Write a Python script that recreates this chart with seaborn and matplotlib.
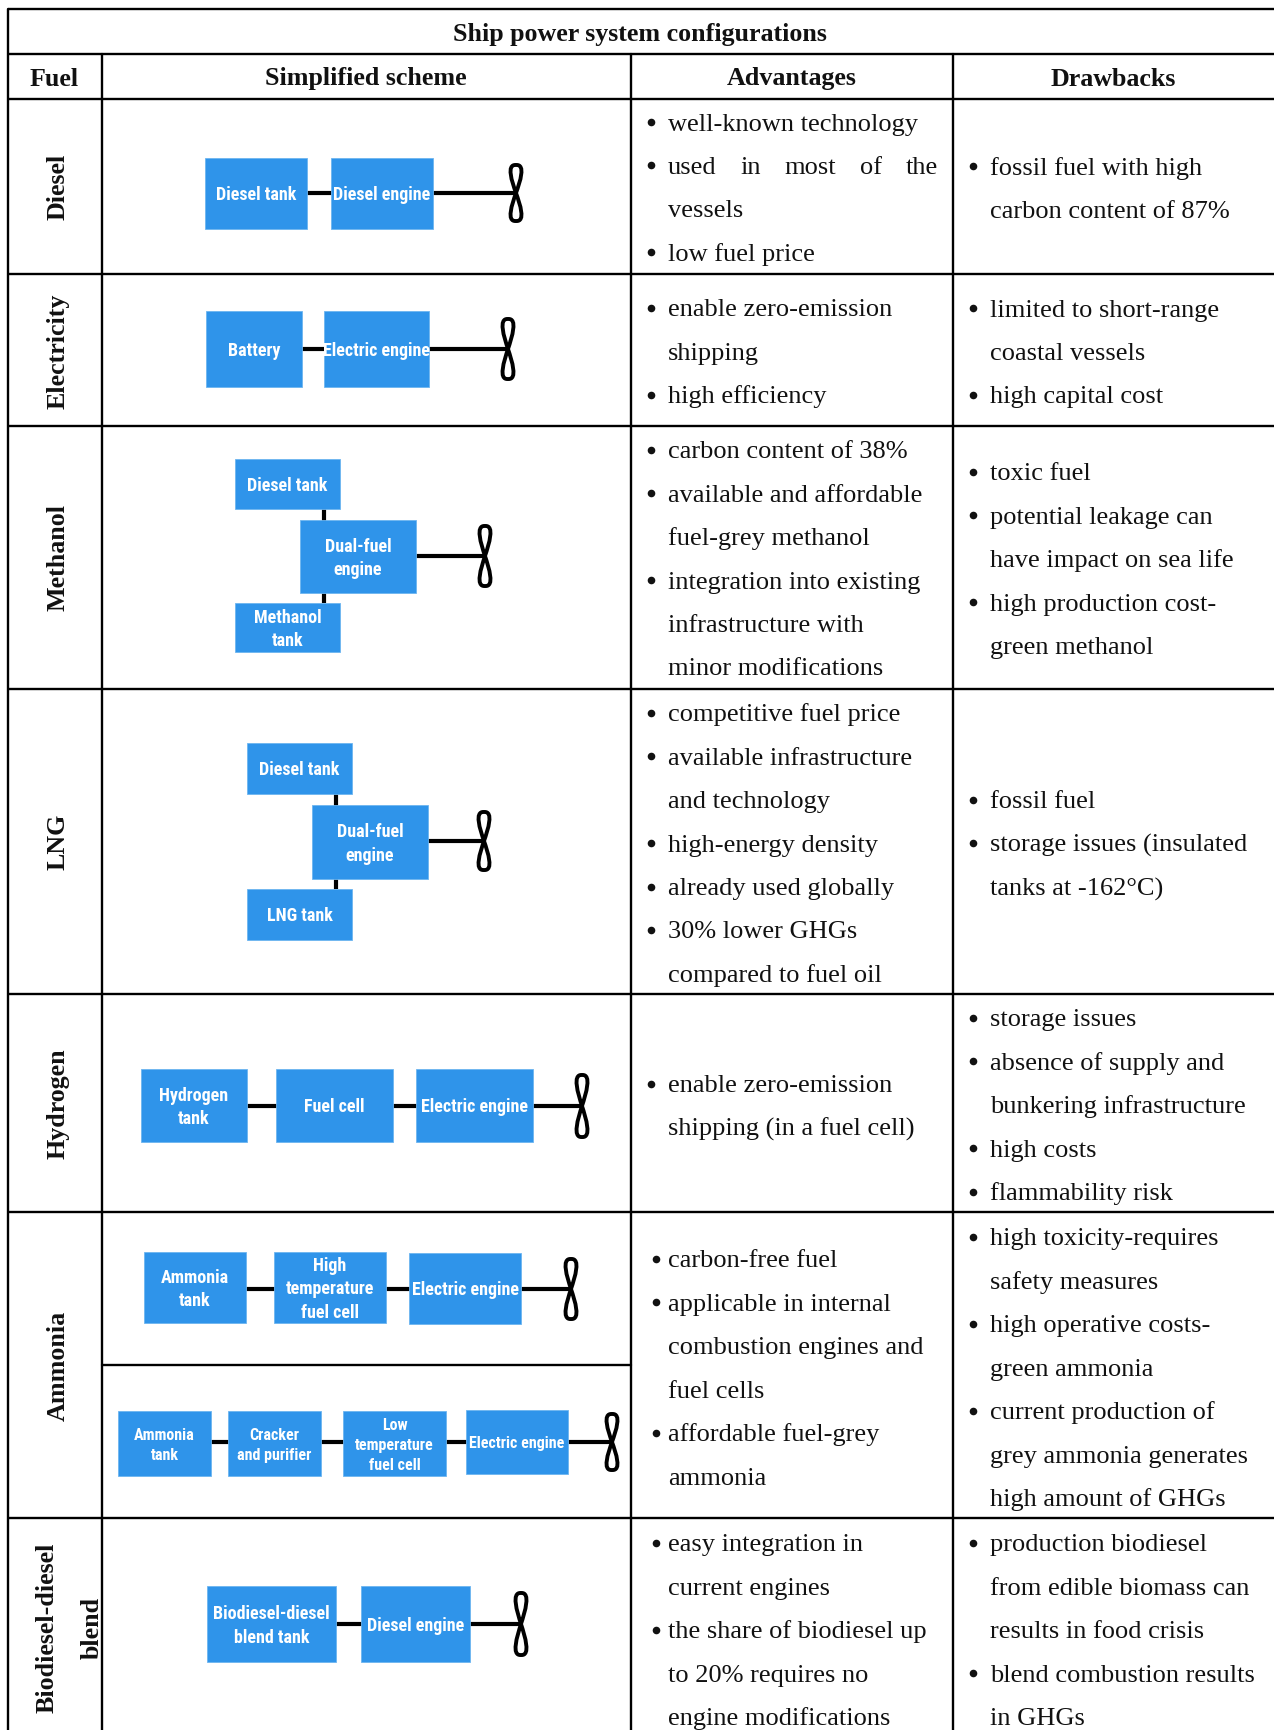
import matplotlib
matplotlib.use('Agg')
import matplotlib.pyplot as plt
from matplotlib import font_manager
from matplotlib.patches import PathPatch, Rectangle
from matplotlib.path import Path
import seaborn as sns

# Contents of the table
title = 'Ship power system configurations'
headers = ['Fuel', 'Simplified scheme', 'Advantages', 'Drawbacks']
fuels = ['Diesel', 'Electricity', 'Methanol', 'LNG', 'Hydrogen', 'Ammonia', 'Biodiesel-diesel\nblend']

advantages = [
    [['well-known technology'], ['used in most of the', 'vessels'], ['low fuel price']],
    [['enable zero-emission', 'shipping'], ['high efficiency']],
    [['carbon content of 38%'], ['available and affordable', 'fuel-grey methanol'],
     ['integration into existing', 'infrastructure with', 'minor modifications']],
    [['competitive fuel price'], ['available infrastructure', 'and technology'], ['high-energy density'],
     ['already used globally'], ['30% lower GHGs', 'compared to fuel oil']],
    [['enable zero-emission', 'shipping (in a fuel cell)']],
    [['carbon-free fuel'], ['applicable in internal', 'combustion engines and', 'fuel cells'],
     ['affordable fuel-grey', 'ammonia']],
    [['easy integration in', 'current engines'], ['the share of biodiesel up', 'to 20% requires no',
     'engine modifications']],
]
drawbacks = [
    [['fossil fuel with high', 'carbon content of 87%']],
    [['limited to short-range', 'coastal vessels'], ['high capital cost']],
    [['toxic fuel'], ['potential leakage can', 'have impact on sea life'], ['high production cost-', 'green methanol']],
    [['fossil fuel'], ['storage issues (insulated', 'tanks at -162°C)']],
    [['storage issues'], ['absence of supply and', 'bunkering infrastructure'], ['high costs'], ['flammability risk']],
    [['high toxicity-requires', 'safety measures'], ['high operative costs-', 'green ammonia'],
     ['current production of', 'grey ammonia generates', 'high amount of GHGs']],
    [['production biodiesel', 'from edible biomass can', 'results in food crisis'],
     ['blend combustion results', 'in GHGs']],
]

# Labels of the blue boxes, one list per scheme
scheme_labels = [
    ['Diesel tank', 'Diesel engine'],
    ['Battery', 'Electric engine'],
    ['Diesel tank', 'Dual-fuel\nengine', 'Methanol\ntank'],
    ['Diesel tank', 'Dual-fuel\nengine', 'LNG tank'],
    ['Hydrogen\ntank', 'Fuel cell', 'Electric engine'],
    ['Ammonia\ntank', 'High\ntemperature\nfuel cell', 'Electric engine'],
    ['Ammonia\ntank', 'Cracker\nand purifier', 'Low\ntemperature\nfuel cell', 'Electric engine'],
    ['Biodiesel-diesel\nblend tank', 'Diesel engine'],
]

# Layout in pixels of the output image
W, H = 1274, 1731
col_x = [8, 101.5, 631, 952.5]
row_y = [10, 54.5, 99.5, 274.5, 427, 689.5, 995, 1213, 1519]
LINE_STEP = 43.4

# first line of each text cell (centre of the x-height)
adv_first = [123, 309, 451, 714, 1085, 1260, 1544]
draw_first = [167, 309, 473, 801, 1019, 1238, 1544]
adv_bullet_x = [651, 651, 651, 651, 651, 656, 656]
draw_bullet_x = [973] * 7

# x0, x1, y0, y1 of each box
scheme_boxes = [
    [(205, 307, 159, 230), (331, 433, 159, 230)],
    [(206, 302, 312, 388), (324, 429, 312, 388)],
    [(235, 340, 460, 510), (300, 416, 521, 594), (235, 340, 604, 653)],
    [(247, 352, 744, 795), (312, 428, 806, 880), (247, 352, 890, 941)],
    [(141, 247, 1070, 1143), (276, 393, 1070, 1143), (416, 533, 1070, 1143)],
    [(144, 246, 1253, 1324), (274, 386, 1253, 1324), (409, 521, 1254, 1325)],
    [(118, 211, 1412, 1477), (228, 321, 1412, 1477), (343, 446, 1412, 1477), (466, 568, 1411, 1475)],
    [(207, 336, 1587, 1663), (361, 470, 1587, 1663)],
]
# propeller centre x, y and half height
props = [(516, 194, 28), (508, 350, 30), (485, 557, 30), (484, 842, 29), (582, 1107, 31),
         (571, 1290, 30), (612, 1443, 28), (521, 1625, 31)]

sns.set_theme(style='white')
serif = ['Liberation Serif', 'DejaVu Serif']
names = {f.name for f in font_manager.fontManager.ttflist}
narrow = [n for n in ['Roboto Condensed', 'Liberation Sans Narrow', 'Open Sans Condensed'] if n in names]
condensed = bool(narrow)
narrow = narrow + ['Roboto']
plt.rcParams['font.family'] = serif

fig = plt.figure(figsize=(W / 100, H / 100), dpi=100)
ax = fig.add_axes([0, 0, 1, 1])
ax.set_xlim(0, W)
ax.set_ylim(H, 0)
ax.axis('off')

INK = '#111111'
BLUE = '#2f94ea'
GRID_LW = 1.7
TEXT_SIZE = 19
BODY = dict(family=serif, fontsize=TEXT_SIZE, color=INK, va='baseline', ha='left')

# Table grid
for y in row_y:
    ax.plot([col_x[0], W], [y, y], color='black', lw=GRID_LW, solid_capstyle='butt')
ax.plot([col_x[0], col_x[0]], [row_y[0], H], color='black', lw=GRID_LW)
for x in col_x[1:]:
    ax.plot([x, x], [row_y[1], H], color='black', lw=GRID_LW)
ax.plot([col_x[1], col_x[2]], [1366, 1366], color='black', lw=GRID_LW)

# Headers
head = dict(family=serif, fontsize=18.7, fontweight='bold', color=INK, ha='center', va='center')
ax.text(640, 35, title, **head)
for x, name in zip([54, 366, 792, 1113], headers):
    ax.text(x, 79, name, **head)

# Fuel names
fuel_y = [187, 351, 558, 842, 1104, 1366, 1628]
for i, (name, y) in enumerate(zip(fuels, fuel_y)):
    if '\n' in name:
        first, second = name.split('\n')
        ax.text(47, y, first, rotation=90, **head)
        ax.text(92, y, second, rotation=90, **head)
    else:
        ax.text(58, y, name, rotation=90, **head)


def put_line(x, y, line, justify_to=None):
    if justify_to is None:
        ax.text(x, y, line, **BODY)
        return
    # spread the words over the whole column width
    words = line.split()
    rend = fig.canvas.get_renderer()
    items = [ax.text(x, y, w, **BODY) for w in words]
    widths = [t.get_window_extent(rend).width for t in items]
    gap = (justify_to - x - sum(widths)) / (len(words) - 1)
    cur = x
    for t, w in zip(items, widths):
        t.set_x(cur)
        cur += w + gap


def put_cell(bullets, first_y, bullet_x, text_x):
    y = first_y
    for item in bullets:
        ax.scatter([bullet_x], [y], s=30, color=INK, linewidths=0, zorder=3)
        for line in item:
            right = 938 if line == 'used in most of the' else None
            put_line(text_x, y + 7.5, line, right)
            y += LINE_STEP


for i in range(7):
    put_cell(advantages[i], adv_first[i], adv_bullet_x[i], 668)
    put_cell(drawbacks[i], draw_first[i], draw_bullet_x[i], 990)

# Schemes
LINK_LW = 3
for labels, boxes, (px, py, ph) in zip(scheme_labels, scheme_boxes, props):
    stacked = len(boxes) == 3 and boxes[0][0] == boxes[2][0]
    if stacked:
        vx = boxes[1][0] + 24
        ax.plot([vx, vx], [boxes[0][3], boxes[2][2]], color='black', lw=LINK_LW, zorder=1, solid_capstyle='butt')
        ax.plot([boxes[1][1], px], [py, py], color='black', lw=LINK_LW, zorder=1, solid_capstyle='butt')
    else:
        ax.plot([boxes[0][0] + 5, px], [py, py], color='black', lw=LINK_LW, zorder=1, solid_capstyle='butt')
    small = len(boxes) == 4
    for label, (x0, x1, y0, y1) in zip(labels, boxes):
        ax.add_patch(Rectangle((x0, y0), x1 - x0, y1 - y0, facecolor=BLUE, edgecolor='#6db5f0', lw=0.6, zorder=2))
        if condensed:
            size = 11.5 if small else 13
        else:
            # plain Roboto runs wider, so it has to stay smaller to fit the boxes
            size = 9.8 if small else 11
        ax.text((x0 + x1) / 2, (y0 + y1) / 2 + 1, label, family=narrow, fontweight='bold', color='white',
                fontsize=size, ha='center', va='center', linespacing=1.4, zorder=3)
    # propeller
    w = 10
    verts = [(px, py), (px - 4, py - ph * 0.4), (px - w, py - ph * 1.03), (px, py - ph),
             (px + w, py - ph * 1.03), (px + 4, py - ph * 0.4), (px, py),
             (px - 4, py + ph * 0.4), (px - w, py + ph * 1.03), (px, py + ph),
             (px + w, py + ph * 1.03), (px + 4, py + ph * 0.4), (px, py)]
    codes = [Path.MOVETO] + [Path.CURVE4] * 12
    ax.add_patch(PathPatch(Path(verts, codes), facecolor='none', edgecolor='black', lw=2.8, zorder=3))

fig.savefig('out.png', dpi=100, facecolor='white')
